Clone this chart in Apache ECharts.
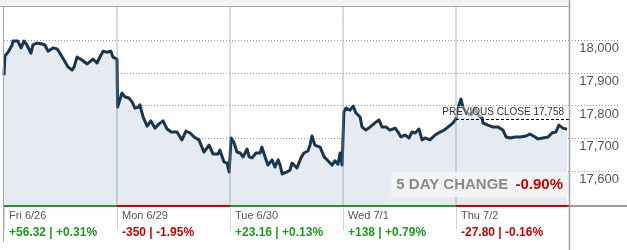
<!DOCTYPE html>
<html>
<head>
<meta charset="utf-8">
<script src="https://cdn.jsdelivr.net/npm/echarts@6/dist/echarts.min.js"></script>
<style>
html,body{margin:0;padding:0;background:#fff;}
#chart{width:627px;height:250px;}
</style>
</head>
<body>
<div id="chart"></div>
<script>
// ---- data ----
const days = ['Fri 6/26', 'Mon 6/29', 'Tue 6/30', 'Wed 7/1', 'Thu 7/2'];
const dayChanges = ['+56.32', '-350', '+23.16', '+138', '-27.80'];
const dayPctChanges = ['+0.31%', '-1.95%', '+0.13%', '+0.79%', '-0.16%'];
const yTicks = [17600, 17700, 17800, 17900, 18000];
const previousClose = 17758;
const fiveDayChange = '-0.90%';
const minutesPerDay = 390;

// [minute of session, index level]
const fri = [[0,17893],[3,17951],[14,17963],[28,17985],[31,17997],[48,17997],[59,17976],[69,17997],[79,17985],[93,17960],[100,17985],[114,17991],[131,17988],[141,17985],[152,17966],[169,17976],[183,17973],[193,17960],[211,17933],[221,17918],[235,17908],[242,17918],[252,17948],[269,17939],[287,17927],[307,17942],[321,17930],[331,17948],[342,17966],[355,17963],[369,17966],[376,17948],[390,17942]];
const mon = [[2,17795],[17,17838],[28,17826],[41,17823],[52,17811],[62,17792],[76,17795],[79,17802],[90,17765],[104,17737],[117,17753],[131,17731],[145,17744],[159,17753],[173,17728],[187,17719],[207,17719],[224,17695],[238,17722],[252,17716],[266,17704],[283,17695],[300,17658],[318,17679],[331,17652],[349,17652],[355,17664],[369,17628],[380,17624],[387,17597],[390,17603]];
const tue = [[4,17701],[14,17686],[24,17658],[35,17655],[45,17643],[59,17667],[66,17643],[76,17640],[90,17655],[104,17655],[110,17673],[121,17643],[131,17618],[145,17634],[155,17612],[166,17634],[173,17618],[180,17591],[197,17597],[207,17603],[214,17624],[231,17609],[245,17640],[255,17655],[269,17661],[276,17679],[283,17707],[293,17679],[311,17673],[325,17643],[338,17631],[352,17618],[362,17631],[373,17621],[380,17655],[387,17618],[390,17624]];
const wed = [[3,17780],[10,17792],[24,17786],[35,17798],[45,17777],[59,17765],[66,17734],[79,17725],[93,17734],[110,17747],[124,17756],[135,17734],[149,17734],[162,17725],[180,17731],[190,17719],[200,17704],[214,17710],[228,17701],[238,17719],[249,17716],[262,17728],[273,17695],[283,17701],[300,17695],[318,17710],[335,17719],[349,17725],[362,17734],[380,17747],[390,17759]];
const thu = [[7,17792],[17,17820],[24,17795],[38,17777],[52,17771],[66,17792],[76,17771],[90,17762],[93,17747],[110,17740],[128,17734],[145,17734],[162,17725],[173,17704],[187,17701],[204,17704],[221,17704],[242,17707],[255,17713],[273,17704],[283,17698],[300,17701],[318,17704],[331,17716],[345,17719],[355,17740],[369,17731],[383,17728]];

// ---- build ----
const sessions = [fri, mon, tue, wed, thu];
const lineData = [];
sessions.forEach((s, i) => s.forEach(p => lineData.push([i * minutesPerDay + p[0], p[1]])));
const xMax = days.length * minutesPerDay;
const yMin = 17493, yMax = 18101;
const GREEN = '#1e9a1e', RED = '#cc0000';
const isNeg = i => dayChanges[i].charAt(0) === '-';
const FONT = '"Liberation Sans", Arial, sans-serif';

const chart = echarts.init(document.getElementById('chart'), null, {renderer: 'canvas'});
const dotted = {show: true, lineStyle: {color: '#9a9a9a', type: [1, 2], width: 1}};

chart.setOption({
  animation: false,
  textStyle: {fontFamily: FONT},
  title: {
    text: '{a|5 DAY CHANGE} {b|' + fiveDayChange + '}',
    right: 58, top: 172,
    backgroundColor: 'rgba(244,244,245,0.92)',
    padding: [5, 6, 5, 5],
    textStyle: {
      fontSize: 15, fontFamily: FONT,
      rich: {
        a: {fontSize: 15, color: '#8a8a8a', fontFamily: FONT, lineHeight: 15},
        b: {fontSize: 15, color: RED, fontWeight: 'bold', fontFamily: FONT, lineHeight: 15, padding: [0, 0, 0, 3]}
      }
    }
  },
  grid: [
    {left: 4, right: 58, top: 7, bottom: 44},
    {left: 569, right: 7, top: 7, bottom: 44},
    {left: 4, right: 58, top: 206, bottom: 20}
  ],
  xAxis: [
    {gridIndex: 0, type: 'value', min: 0, max: xMax, show: false},
    {gridIndex: 1, type: 'value', min: 0, max: 1, show: false},
    {
      gridIndex: 2, type: 'value', min: 0, max: xMax, position: 'top',
      axisLine: {show: false}, axisTick: {show: false, customValues: days.map((d, i) => i * minutesPerDay)},
      splitLine: {show: true, lineStyle: {color: '#d4d4d4', width: 1}},
      axisLabel: {
        inside: true, margin: 1, align: 'left', verticalAlign: 'top',
        customValues: days.map((d, i) => i * minutesPerDay),
        padding: [0, 0, 0, 5],
        formatter: v => {
          const i = Math.round(v / minutesPerDay);
          const c = isNeg(i) ? 'r' : 'g';
          return '{d|' + days[i] + '}\n{' + c + '|' + dayChanges[i] + ' | ' + dayPctChanges[i] + '}';
        },
        rich: {
          d: {fontSize: 11, color: '#555', fontFamily: FONT, lineHeight: 17},
          g: {fontSize: 12, color: GREEN, fontWeight: 'bold', fontFamily: FONT, lineHeight: 17},
          r: {fontSize: 12, color: RED, fontWeight: 'bold', fontFamily: FONT, lineHeight: 17}
        }
      }
    }
  ],
  yAxis: [
    {
      gridIndex: 0, type: 'value', min: yMin, max: yMax, position: 'right',
      axisLine: {show: false}, axisTick: {show: false, customValues: yTicks},
      splitLine: dotted,
      axisLabel: {
        customValues: yTicks, margin: 50, align: 'right', verticalAlign: 'top',
        padding: [2, 0, 0, 0],
        color: '#555', fontSize: 13, fontFamily: FONT,
        formatter: v => v.toLocaleString('en-US')
      }
    },
    {
      gridIndex: 1, type: 'value', min: yMin, max: yMax,
      axisLine: {show: false}, axisTick: {show: false, customValues: yTicks},
      axisLabel: {show: false}, splitLine: dotted
    },
    {gridIndex: 2, type: 'value', min: 0, max: 1, show: false}
  ],
  series: [
    {
      type: 'line', xAxisIndex: 0, yAxisIndex: 0, data: lineData,
      showSymbol: false, symbol: 'none',
      lineStyle: {color: '#18364e', width: 3, join: 'round'},
      areaStyle: {color: '#e6ebf1', opacity: 1, origin: 'start'},
      z: 3,
      markLine: {
        silent: true, symbol: 'none', animation: false,
        data: [
          ...[1, 2, 3, 4].map(i => ({
            xAxis: i * minutesPerDay,
            lineStyle: {color: 'rgba(120,145,175,0.32)', width: 2, type: 'solid'},
            label: {show: false}
          })),
          [
            {
              coord: [4 * minutesPerDay, previousClose],
              lineStyle: {color: '#000', width: 1, type: [3, 2]},
              label: {
                show: true, position: 'insideEndTop', distance: [4, 2],
                formatter: 'PREVIOUS CLOSE ' + previousClose.toLocaleString('en-US'),
                fontSize: 10, color: '#333', fontFamily: FONT,
                backgroundColor: 'rgba(255,255,255,0.55)', padding: [1, 1, 0, 1]
              }
            },
            {coord: [xMax, previousClose]}
          ]
        ]
      }
    },
    {
      type: 'line', xAxisIndex: 2, yAxisIndex: 2, data: [[0, 0]],
      showSymbol: false, symbol: 'none', lineStyle: {width: 0, opacity: 0},
      markLine: {
        silent: true, symbol: 'none', animation: false, label: {show: false},
        data: days.map((d, i) => [
          {coord: [i * minutesPerDay, 1], lineStyle: {color: isNeg(i) ? RED : GREEN, width: 2, type: 'solid'}},
          {coord: [(i + 1) * minutesPerDay, 1]}
        ])
      }
    }
  ],
  graphic: [
    {type: 'rect', shape: {x: 0, y: 0, width: 569, height: 6}, style: {fill: '#f2f3f5'}, silent: true, z: 10},
    {type: 'line', shape: {x1: 0, y1: 6.5, x2: 569, y2: 6.5}, style: {stroke: '#a8a8a8', lineWidth: 1}, silent: true, z: 10},
    {type: 'line', shape: {x1: 3.5, y1: 6, x2: 3.5, y2: 242}, style: {stroke: '#a8a8a8', lineWidth: 1}, silent: true, z: 10},
    {type: 'line', shape: {x1: 569.5, y1: 0, x2: 569.5, y2: 250}, style: {stroke: '#a0a0a0', lineWidth: 1.5}, silent: true, z: 10},
    {type: 'line', shape: {x1: 569, y1: 206, x2: 627, y2: 206}, style: {stroke: '#9a9a9a', lineWidth: 2}, silent: true, z: 10}
  ]
});
</script>
</body>
</html>
